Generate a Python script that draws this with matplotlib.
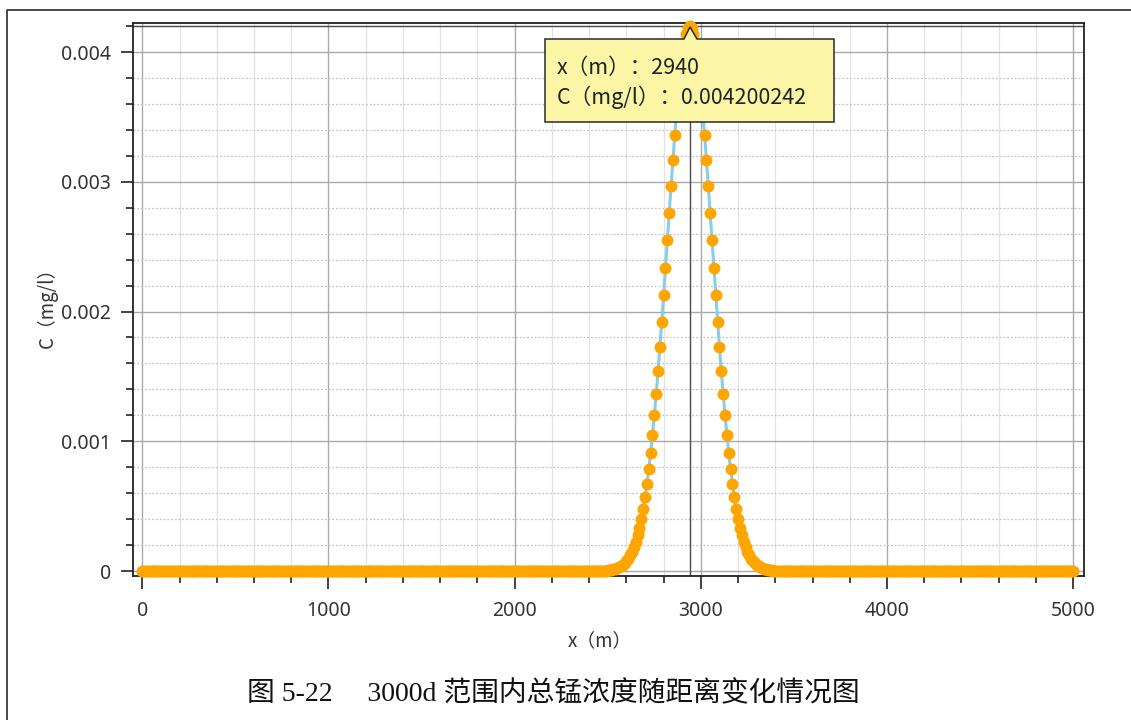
import numpy as np
import matplotlib
matplotlib.use("Agg")
import matplotlib.pyplot as plt
from matplotlib.patches import Polygon
from matplotlib.lines import Line2D
from matplotlib.ticker import MultipleLocator

# ---------------- data ----------------
x_start, x_end, x_step = 0, 5000, 10
peak_x_from = 2490   # first x of the non-zero stretch
peak_values = [
    0.0000037, 0.0000050, 0.0000069, 0.0000092, 0.0000123, 0.0000162, 0.0000214, 0.0000279,
    0.0000362, 0.0000467, 0.0000597, 0.0000759, 0.0000957, 0.0001200, 0.0001493, 0.0001845,
    0.0002265, 0.0002761, 0.0003342, 0.0004016, 0.0004795, 0.0005684, 0.0006691, 0.0007824,
    0.0009084, 0.0010473, 0.0011993, 0.0013636, 0.0015397, 0.0017268, 0.0019230, 0.0021267,
    0.0023357, 0.0025476, 0.0027594, 0.0029681, 0.0031705, 0.0033633, 0.0035431, 0.0037067,
    0.0038510, 0.0039732, 0.0040710, 0.0041423, 0.0041857,
    0.004200242,
    0.0041857, 0.0041423, 0.0040710, 0.0039732, 0.0038510, 0.0037067, 0.0035431, 0.0033633,
    0.0031705, 0.0029681, 0.0027594, 0.0025476, 0.0023357, 0.0021267, 0.0019230, 0.0017268,
    0.0015397, 0.0013636, 0.0011993, 0.0010473, 0.0009084, 0.0007824, 0.0006691, 0.0005684,
    0.0004795, 0.0004016, 0.0003342, 0.0002761, 0.0002265, 0.0001845, 0.0001493, 0.0001200,
    0.0000957, 0.0000759, 0.0000597, 0.0000467, 0.0000362, 0.0000279, 0.0000214, 0.0000162,
    0.0000123, 0.0000092, 0.0000069, 0.0000050, 0.0000037,
]
x_ticks = [0, 1000, 2000, 3000, 4000, 5000]
y_ticks = [0, 0.001, 0.002, 0.003, 0.004]
y_tick_labels = ["0", "0.001", "0.002", "0.003", "0.004"]
tip_x = 2940
tip_c = 0.004200242
x_label = "x（m）"
y_label = "C（mg/l）"
tip_line1 = "x（m）：2940"
tip_line2 = "C（mg/l）：0.004200242"
caption = "图 5-22\u3000 3000d 范围内总锰浓度随距离变化情况图"

x = np.arange(x_start, x_end + 1, x_step)
c = np.zeros(len(x))
i0 = int((peak_x_from - x_start) / x_step)
c[i0:i0 + len(peak_values)] = peak_values

# ---------------- figure ----------------
W, H = 1131, 720
fig = plt.figure(figsize=(W / 100, H / 100), dpi=100)
fig.patch.set_facecolor("white")

def fx(px):
    return px / W

def fy(py):
    return 1 - py / H

ax = fig.add_axes([fx(133), fy(576), fx(1084) - fx(133), fy(23) - fy(576)])
ax.set_xlim(-50, 5058)
ax.set_ylim(-0.0000385, 0.004224)

# grid
ax.xaxis.set_minor_locator(MultipleLocator(200))
ax.yaxis.set_minor_locator(MultipleLocator(0.0002))
ax.set_xticks(x_ticks)
ax.set_yticks(y_ticks)
ax.set_yticklabels(y_tick_labels)
ax.grid(which="major", color="#a9a9a9", lw=1.0, ls="-", zorder=0)
ax.grid(which="minor", axis="x", color="#e2e2e2", lw=0.9, ls="-", zorder=0)
ax.grid(which="minor", axis="y", color="#c4c4c4", lw=0.9, ls=(0, (1.5, 1.5)), zorder=0)
ax.set_axisbelow(True)

for s in ax.spines.values():
    s.set_color("#222222")
    s.set_linewidth(1.3)

ax.tick_params(which="major", direction="out", length=9, width=1.2, color="#222222",
               labelsize=14, labelcolor="#333333", pad=7)
ax.tick_params(axis="x", which="major", pad=9)
ax.tick_params(which="minor", direction="out", length=5, width=1.2, color="#222222")
for lab in ax.get_xticklabels() + ax.get_yticklabels():
    lab.set_family(["Noto Sans", "DejaVu Sans"])

# crosshair
ax.axvline(tip_x, color="#4a4a4a", lw=1.0, zorder=1.5)
ax.axhline(tip_c, color="#4a4a4a", lw=1.0, zorder=1.5)

# series
ax.plot(x, c, color="#87CEEB", lw=2.2, zorder=3, clip_on=False)
ax.plot(x, c, ls="none", marker="o", ms=8.6, mfc="#FFA500", mec="none", zorder=4, clip_on=False)

# axis labels
cjk = ["Noto Sans CJK SC", "DejaVu Sans"]
ax.set_xlabel(x_label, fontsize=13.5, family=cjk, color="#333333")
ax.xaxis.set_label_coords((600 - 133) / 951, (576 - 641) / 553)
ax.xaxis.label.set_va("center")
ax.set_ylabel(y_label, fontsize=13.5, family=cjk, color="#333333")
ax.yaxis.set_label_coords((47 - 133) / 951, (576 - 303) / 553)
ax.yaxis.label.set_va("center")

# tooltip
tip_pts = [(545, 39), (684, 39), (690, 27), (697, 39), (834, 39), (834, 122), (545, 122)]
poly = Polygon([(fx(a), fy(b)) for a, b in tip_pts], closed=True, transform=fig.transFigure,
               facecolor="#FAF6A6", edgecolor="#2a2a2a", lw=1.1, zorder=10)
fig.add_artist(poly)
fig.text(fx(557), fy(68), tip_line1, fontsize=15.5, family=cjk, color="#222222",
         ha="left", va="center", zorder=11)
fig.text(fx(557), fy(97), tip_line2, fontsize=15.5, family=cjk, color="#222222",
         ha="left", va="center", zorder=11)

# outer frame
fig.add_artist(Line2D([fx(7), fx(7), fx(1131)], [fy(720), fy(10), fy(10)],
                      transform=fig.transFigure, color="#3a3a3a", lw=1.3))

# caption
fig.text(fx(553), fy(694), caption, fontsize=20,
         family=["Liberation Serif", "Noto Sans CJK SC"], color="#111111",
         ha="center", va="center")

fig.savefig("out.png", dpi=100)
